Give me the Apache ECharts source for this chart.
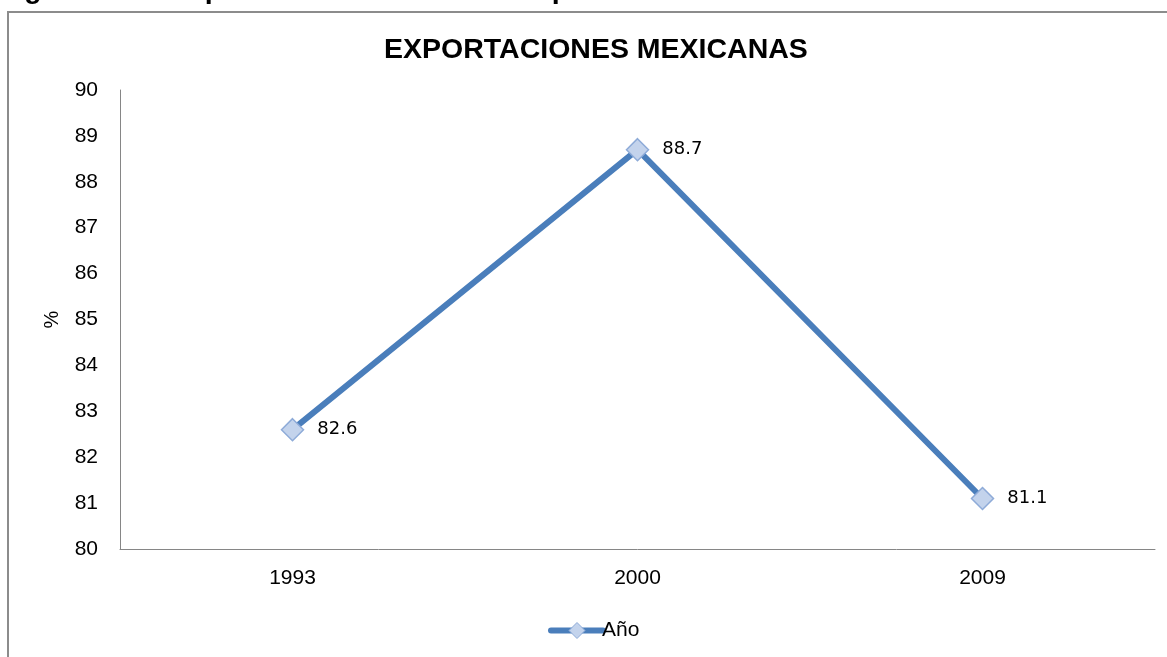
<!DOCTYPE html>
<html>
<head>
<meta charset="utf-8">
<script src="https://cdn.jsdelivr.net/npm/echarts@6/dist/echarts.min.js"></script>
<style>
  html, body { margin: 0; padding: 0; background: #fff; }
  #chart { width: 1167px; height: 657px; }
</style>
</head>
<body>
<div id="chart"></div>
<script>
// Exportaciones mexicanas (% del total) por año
const years = ['1993', '2000', '2009'];
const exportShare = [82.6, 88.7, 81.1];
const seriesName = 'Año';
const chartTitle = 'EXPORTACIONES MEXICANAS';
const captionText = 'Figura no.7: Exportaciones mexicanas a partir de la firma del TLCAN';
const yMin = 80, yMax = 90, yStep = 1;

const lineBlue = '#4a7ebb';
const markerFill = '#c3d3ec';
const markerEdge = '#8eabd8';

const chart = echarts.init(document.getElementById('chart'), null, { renderer: 'canvas' });

chart.setOption({
  backgroundColor: '#ffffff',
  animation: false,
  graphic: [
    {
      type: 'text', left: -1, top: -24, z: 10,
      style: { text: captionText, font: 'bold 28.5px "Liberation Sans", Arial, sans-serif', fill: '#000' }
    },
    {
      type: 'rect', shape: { x: 8, y: 12, width: 1200, height: 700 },
      style: { fill: 'none', stroke: '#8c8c8c', lineWidth: 2 }, z: -1
    }
  ],
  title: {
    text: chartTitle,
    left: 379,
    top: 31,
    textStyle: { fontFamily: '"Liberation Sans", Arial, sans-serif', fontWeight: 'bold', fontSize: 28.5, color: '#000' }
  },
  legend: {
    bottom: 11,
    left: 543,
    itemWidth: 52,
    itemHeight: 20,
    itemGap: 4,
    data: [seriesName],
    lineStyle: { width: 6, color: lineBlue, cap: 'round' },
    itemStyle: { color: markerFill, borderColor: markerEdge, borderWidth: 1 },
    textStyle: { fontFamily: '"Liberation Sans", Arial, sans-serif', fontSize: 21, color: '#000', padding: [0, 0, 0, -6] }
  },
  grid: { left: 120, right: 12, top: 90, bottom: 108, containLabel: false },
  xAxis: {
    type: 'category',
    data: years,
    boundaryGap: true,
    axisLine: { lineStyle: { color: '#868686', width: 1 } },
    axisTick: { show: false },
    axisLabel: { margin: 19, fontFamily: '"Liberation Sans", Arial, sans-serif', fontSize: 21, color: '#000' }
  },
  yAxis: {
    type: 'value',
    min: yMin,
    max: yMax,
    interval: yStep,
    name: '%',
    nameLocation: 'middle',
    nameRotate: 90,
    nameGap: 58,
    nameTextStyle: { fontFamily: '"Liberation Sans", Arial, sans-serif', fontSize: 20, color: '#000' },
    axisLine: { show: true, lineStyle: { color: '#868686', width: 1 } },
    axisTick: { show: false },
    splitLine: { show: false },
    axisLabel: { margin: 22, fontFamily: '"Liberation Sans", Arial, sans-serif', fontSize: 21, color: '#000' }
  },
  series: [{
    name: seriesName,
    type: 'line',
    data: exportShare,
    symbol: 'diamond',
    symbolSize: 22,
    lineStyle: { color: lineBlue, width: 6 },
    itemStyle: { color: markerFill, borderColor: markerEdge, borderWidth: 1.5 },
    label: {
      show: true,
      position: 'right',
      distance: 13,
      fontFamily: '"DejaVu Sans", sans-serif',
      fontSize: 18,
      color: '#000',
      formatter: p => p.value.toFixed(1)
    }
  }]
});
</script>
</body>
</html>
